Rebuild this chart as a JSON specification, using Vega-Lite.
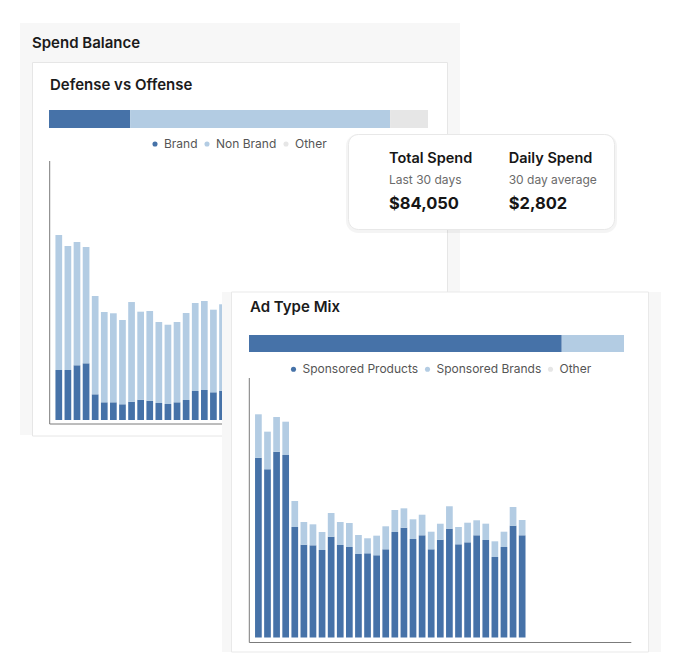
{
  "$schema": "https://vega.github.io/schema/vega-lite/v6.json",
  "width": 678,
  "height": 664,
  "autosize": {"type": "none"},
  "padding": 0,
  "background": "white",
  "config": {
    "font": "Inter",
    "view": {"stroke": null}
  },
  "datasets": {
    "defShare": [
      {"chart": "Defense vs Offense", "segment": "Brand", "share": 21.4},
      {"chart": "Defense vs Offense", "segment": "Non Brand", "share": 68.6},
      {"chart": "Defense vs Offense", "segment": "Other", "share": 10.0}
    ],
    "adShare": [
      {"chart": "Ad Type Mix", "segment": "Sponsored Products", "share": 83.4},
      {"chart": "Ad Type Mix", "segment": "Sponsored Brands", "share": 16.6}
    ],
    "defDaily": [
      {"day": 1, "Brand": 1089, "Non Brand": 2939},
      {"day": 2, "Brand": 1089, "Non Brand": 2699},
      {"day": 3, "Brand": 1191, "Non Brand": 2684},
      {"day": 4, "Brand": 1234, "Non Brand": 2532},
      {"day": 5, "Brand": 559, "Non Brand": 2140},
      {"day": 6, "Brand": 385, "Non Brand": 1966},
      {"day": 7, "Brand": 385, "Non Brand": 1938},
      {"day": 8, "Brand": 342, "Non Brand": 1835},
      {"day": 9, "Brand": 398, "Non Brand": 2170},
      {"day": 10, "Brand": 442, "Non Brand": 1916},
      {"day": 11, "Brand": 420, "Non Brand": 1953},
      {"day": 12, "Brand": 370, "Non Brand": 1763},
      {"day": 13, "Brand": 348, "Non Brand": 1726},
      {"day": 14, "Brand": 385, "Non Brand": 1748},
      {"day": 15, "Brand": 435, "Non Brand": 1894},
      {"day": 16, "Brand": 631, "Non Brand": 1916},
      {"day": 17, "Brand": 653, "Non Brand": 1938},
      {"day": 18, "Brand": 603, "Non Brand": 1798},
      {"day": 19, "Brand": 638, "Non Brand": 1881},
      {"day": 20, "Brand": 588, "Non Brand": 1578},
      {"day": 21, "Brand": 610, "Non Brand": 1720},
      {"day": 22, "Brand": 653, "Non Brand": 2025},
      {"day": 23, "Brand": 588, "Non Brand": 1676},
      {"day": 24, "Brand": 610, "Non Brand": 1742},
      {"day": 25, "Brand": 631, "Non Brand": 1763},
      {"day": 26, "Brand": 610, "Non Brand": 1720},
      {"day": 27, "Brand": 544, "Non Brand": 1415},
      {"day": 28, "Brand": 588, "Non Brand": 1578},
      {"day": 29, "Brand": 675, "Non Brand": 2003},
      {"day": 30, "Brand": 631, "Non Brand": 1763}
    ],
    "adDaily": [
      {"day": 1, "Sponsored Products": 3914, "Sponsored Brands": 945},
      {"day": 2, "Sponsored Products": 3662, "Sponsored Brands": 819},
      {"day": 3, "Sponsored Products": 4045, "Sponsored Brands": 755},
      {"day": 4, "Sponsored Products": 3973, "Sponsored Brands": 725},
      {"day": 5, "Sponsored Products": 2406, "Sponsored Brands": 566},
      {"day": 6, "Sponsored Products": 2020, "Sponsored Brands": 494},
      {"day": 7, "Sponsored Products": 2007, "Sponsored Brands": 457},
      {"day": 8, "Sponsored Products": 1905, "Sponsored Brands": 392},
      {"day": 9, "Sponsored Products": 2194, "Sponsored Brands": 516},
      {"day": 10, "Sponsored Products": 2014, "Sponsored Brands": 501},
      {"day": 11, "Sponsored Products": 1970, "Sponsored Brands": 522},
      {"day": 12, "Sponsored Products": 1818, "Sponsored Brands": 414},
      {"day": 13, "Sponsored Products": 1833, "Sponsored Brands": 327},
      {"day": 14, "Sponsored Products": 1790, "Sponsored Brands": 427},
      {"day": 15, "Sponsored Products": 1920, "Sponsored Brands": 501},
      {"day": 16, "Sponsored Products": 2297, "Sponsored Brands": 479},
      {"day": 17, "Sponsored Products": 2390, "Sponsored Brands": 422},
      {"day": 18, "Sponsored Products": 2144, "Sponsored Brands": 429},
      {"day": 19, "Sponsored Products": 2225, "Sponsored Brands": 448},
      {"day": 20, "Sponsored Products": 1920, "Sponsored Brands": 383},
      {"day": 21, "Sponsored Products": 2129, "Sponsored Brands": 348},
      {"day": 22, "Sponsored Products": 2369, "Sponsored Brands": 488},
      {"day": 23, "Sponsored Products": 2029, "Sponsored Brands": 377},
      {"day": 24, "Sponsored Products": 2072, "Sponsored Brands": 427},
      {"day": 25, "Sponsored Products": 2225, "Sponsored Brands": 327},
      {"day": 26, "Sponsored Products": 2123, "Sponsored Brands": 355},
      {"day": 27, "Sponsored Products": 1752, "Sponsored Brands": 342},
      {"day": 28, "Sponsored Products": 1970, "Sponsored Brands": 333},
      {"day": 29, "Sponsored Products": 2434, "Sponsored Brands": 407},
      {"day": 30, "Sponsored Products": 2225, "Sponsored Brands": 333}
    ],
    "kpi": [
      {"metric": "Total Spend", "period": "Last 30 days", "amount": 84050},
      {"metric": "Daily Spend", "period": "30 day average", "amount": 2802}
    ]
  },
  "resolve": {
    "scale": {"x": "independent", "y": "independent", "color": "independent"},
    "axis": {"x": "independent", "y": "independent"},
    "legend": {"color": "independent"}
  },
  "layer": [
    {
      "data": {"values": [{"card": "Spend Balance"}]},
      "mark": {"type": "rect", "fill": "#f7f7f7"},
      "encoding": {
        "x": {"field": "card", "type": "nominal", "scale": {"type": "band", "range": [20, 460], "paddingInner": 0, "paddingOuter": 0}, "axis": null},
        "y": {"field": "card", "type": "nominal", "scale": {"type": "band", "range": [23, 435], "paddingInner": 0, "paddingOuter": 0}, "axis": null}
      }
    },
    {
      "data": {"values": [{"card": "Spend Balance"}]},
      "mark": {"type": "text", "align": "left", "baseline": "alphabetic", "fontSize": 15, "fontWeight": 600, "color": "#1b1b1b"},
      "encoding": {
        "x": {"field": "card", "type": "nominal", "scale": {"type": "point", "range": [32, 32]}, "axis": null},
        "y": {"field": "card", "type": "nominal", "scale": {"type": "point", "range": [47.5, 47.5]}, "axis": null},
        "text": {"field": "card"}
      }
    },
    {
      "data": {"values": [{"card": "Defense vs Offense"}]},
      "mark": {"type": "rect", "fill": "white", "stroke": "#e6e6e6", "strokeWidth": 1},
      "encoding": {
        "x": {"field": "card", "type": "nominal", "scale": {"type": "band", "range": [32.5, 447.5], "paddingInner": 0, "paddingOuter": 0}, "axis": null},
        "y": {"field": "card", "type": "nominal", "scale": {"type": "band", "range": [62.5, 436], "paddingInner": 0, "paddingOuter": 0}, "axis": null}
      }
    },
    {
      "data": {"values": [{"card": "Defense vs Offense"}]},
      "mark": {"type": "text", "align": "left", "baseline": "alphabetic", "fontSize": 15, "fontWeight": 600, "color": "#1b1b1b"},
      "encoding": {
        "x": {"field": "card", "type": "nominal", "scale": {"type": "point", "range": [50, 50]}, "axis": null},
        "y": {"field": "card", "type": "nominal", "scale": {"type": "point", "range": [90, 90]}, "axis": null},
        "text": {"field": "card"}
      }
    },
    {
      "data": {"name": "defShare"},
      "mark": {"type": "bar"},
      "encoding": {
        "y": {"field": "chart", "type": "nominal", "scale": {"type": "band", "range": [110, 128], "paddingInner": 0, "paddingOuter": 0}, "axis": null},
        "x": {"field": "share", "type": "quantitative", "stack": "zero", "scale": {"domain": [0, 100], "range": [49, 428], "nice": false, "padding": 0}, "axis": null},
        "color": {"field": "segment", "type": "nominal", "scale": {"domain": ["Brand", "Non Brand", "Other"], "range": ["#4672a8", "#b3cce3", "#e6e6e6"]}, "legend": {"orient": "none", "legendX": 149, "legendY": 138, "direction": "horizontal", "title": null, "symbolType": "circle", "symbolSize": 26, "symbolStrokeWidth": 0, "labelFontSize": 12, "labelColor": "#555555", "labelFont": "Inter", "columnPadding": 3, "labelOffset": 3, "padding": 0}},
        "order": {"field": "segment", "sort": "ascending"}
      }
    },
    {
      "layer": [
        {
          "data": {"name": "defDaily"},
          "transform": [{"fold": ["Brand", "Non Brand"], "as": ["segment", "spend"]}],
          "mark": {"type": "bar", "orient": "vertical", "width": 6.7, "yOffset": -4},
          "encoding": {
            "x": {"field": "day", "type": "quantitative", "scale": {"domain": [0, 42], "range": [49.7, 431.7], "nice": false, "zero": false, "padding": 0}, "axis": null},
            "y": {"field": "spend", "type": "quantitative", "stack": "zero", "scale": {"domain": [0, 5725], "range": [424, 161], "nice": false, "padding": 0}, "axis": null},
            "color": {"field": "segment", "type": "nominal", "scale": {"domain": ["Brand", "Non Brand", "Other"], "range": ["#4672a8", "#b3cce3", "#e6e6e6"]}, "legend": null},
            "order": {"field": "segment", "sort": "ascending"}
          }
        },
        {
          "data": {"values": [{"line": "x axis"}]},
          "mark": {"type": "rule", "color": "#7b7b7b", "strokeWidth": 1},
          "encoding": {
            "x": {"datum": 0, "type": "quantitative"},
            "x2": {"datum": 42},
            "y": {"datum": 0, "type": "quantitative"}
          }
        },
        {
          "data": {"values": [{"line": "y axis"}]},
          "mark": {"type": "rule", "color": "#7b7b7b", "strokeWidth": 1},
          "encoding": {
            "x": {"datum": 0, "type": "quantitative"},
            "y": {"datum": 0, "type": "quantitative"},
            "y2": {"datum": 5725}
          }
        }
      ]
    },
    {
      "data": {"values": [{"card": "Spend summary"}]},
      "mark": {"type": "rect", "fill": "#000000", "opacity": 0.045, "cornerRadius": 12},
      "encoding": {
        "x": {"field": "card", "type": "nominal", "scale": {"type": "band", "range": [346, 617], "paddingInner": 0, "paddingOuter": 0}, "axis": null},
        "y": {"field": "card", "type": "nominal", "scale": {"type": "band", "range": [134, 233], "paddingInner": 0, "paddingOuter": 0}, "axis": null}
      }
    },
    {
      "data": {"values": [{"card": "Spend summary"}]},
      "mark": {"type": "rect", "fill": "white", "stroke": "#e8e8e8", "strokeWidth": 1, "cornerRadius": 10},
      "encoding": {
        "x": {"field": "card", "type": "nominal", "scale": {"type": "band", "range": [348.5, 614.5], "paddingInner": 0, "paddingOuter": 0}, "axis": null},
        "y": {"field": "card", "type": "nominal", "scale": {"type": "band", "range": [134.5, 229.5], "paddingInner": 0, "paddingOuter": 0}, "axis": null}
      }
    },
    {
      "data": {"name": "kpi"},
      "mark": {"type": "text", "align": "left", "baseline": "alphabetic", "fontSize": 14.5, "fontWeight": 600, "color": "#161616"},
      "encoding": {
        "x": {"field": "metric", "type": "nominal", "scale": {"type": "point", "domain": ["Total Spend", "Daily Spend"], "range": [389, 508.7], "padding": 0}, "axis": null},
        "y": {"datum": "metric", "type": "nominal", "scale": {"type": "point", "range": [163.3, 163.3]}, "axis": null},
        "text": {"field": "metric"}
      }
    },
    {
      "data": {"name": "kpi"},
      "mark": {"type": "text", "align": "left", "baseline": "alphabetic", "fontSize": 12, "fontWeight": 400, "color": "#6b6b6b"},
      "encoding": {
        "x": {"field": "metric", "type": "nominal", "scale": {"type": "point", "domain": ["Total Spend", "Daily Spend"], "range": [389, 508.7], "padding": 0}, "axis": null},
        "y": {"datum": "period", "type": "nominal", "scale": {"type": "point", "range": [184.3, 184.3]}, "axis": null},
        "text": {"field": "period"}
      }
    },
    {
      "data": {"name": "kpi"},
      "mark": {"type": "text", "align": "left", "baseline": "alphabetic", "fontSize": 16.5, "fontWeight": 700, "color": "#161616"},
      "encoding": {
        "x": {"field": "metric", "type": "nominal", "scale": {"type": "point", "domain": ["Total Spend", "Daily Spend"], "range": [389, 508.7], "padding": 0}, "axis": null},
        "y": {"datum": "amount", "type": "nominal", "scale": {"type": "point", "range": [209, 209]}, "axis": null},
        "text": {"field": "amount", "type": "quantitative", "format": "$,.0f"}
      }
    },
    {
      "data": {"values": [{"card": "Ad Type Mix"}]},
      "mark": {"type": "rect", "fill": "#f7f7f7"},
      "encoding": {
        "x": {"field": "card", "type": "nominal", "scale": {"type": "band", "range": [222, 661], "paddingInner": 0, "paddingOuter": 0}, "axis": null},
        "y": {"field": "card", "type": "nominal", "scale": {"type": "band", "range": [292, 652], "paddingInner": 0, "paddingOuter": 0}, "axis": null}
      }
    },
    {
      "data": {"values": [{"card": "Ad Type Mix"}]},
      "mark": {"type": "rect", "fill": "white", "stroke": "#e9e9e9", "strokeWidth": 1},
      "encoding": {
        "x": {"field": "card", "type": "nominal", "scale": {"type": "band", "range": [231.5, 648.5], "paddingInner": 0, "paddingOuter": 0}, "axis": null},
        "y": {"field": "card", "type": "nominal", "scale": {"type": "band", "range": [292, 652], "paddingInner": 0, "paddingOuter": 0}, "axis": null}
      }
    },
    {
      "data": {"values": [{"card": "Ad Type Mix"}]},
      "mark": {"type": "text", "align": "left", "baseline": "alphabetic", "fontSize": 15, "fontWeight": 600, "color": "#1b1b1b"},
      "encoding": {
        "x": {"field": "card", "type": "nominal", "scale": {"type": "point", "range": [250, 250]}, "axis": null},
        "y": {"field": "card", "type": "nominal", "scale": {"type": "point", "range": [311.7, 311.7]}, "axis": null},
        "text": {"field": "card"}
      }
    },
    {
      "data": {"name": "adShare"},
      "mark": {"type": "bar"},
      "encoding": {
        "y": {"field": "chart", "type": "nominal", "scale": {"type": "band", "range": [335, 352], "paddingInner": 0, "paddingOuter": 0}, "axis": null},
        "x": {"field": "share", "type": "quantitative", "stack": "zero", "scale": {"domain": [0, 100], "range": [249, 624], "nice": false, "padding": 0}, "axis": null},
        "color": {"field": "segment", "type": "nominal", "scale": {"domain": ["Sponsored Products", "Sponsored Brands", "Other"], "range": ["#4672a8", "#b3cce3", "#e6e6e6"]}, "legend": {"orient": "none", "legendX": 287.5, "legendY": 363.3, "direction": "horizontal", "title": null, "symbolType": "circle", "symbolSize": 26, "symbolStrokeWidth": 0, "labelFontSize": 12, "labelColor": "#555555", "labelFont": "Inter", "columnPadding": 3, "labelOffset": 3, "padding": 0}},
        "order": {"field": "segment", "sort": "descending"}
      }
    },
    {
      "layer": [
        {
          "data": {"name": "adDaily"},
          "transform": [{"fold": ["Sponsored Products", "Sponsored Brands"], "as": ["segment", "spend"]}],
          "mark": {"type": "bar", "orient": "vertical", "width": 6.7, "yOffset": -5},
          "encoding": {
            "x": {"field": "day", "type": "quantitative", "scale": {"domain": [0, 42], "range": [249.3, 631.3], "nice": false, "zero": false, "padding": 0}, "axis": null},
            "y": {"field": "spend", "type": "quantitative", "stack": "zero", "scale": {"domain": [0, 5758], "range": [642.5, 378], "nice": false, "padding": 0}, "axis": null},
            "color": {"field": "segment", "type": "nominal", "scale": {"domain": ["Sponsored Products", "Sponsored Brands", "Other"], "range": ["#4672a8", "#b3cce3", "#e6e6e6"]}, "legend": null},
            "order": {"field": "segment", "sort": "descending"}
          }
        },
        {
          "data": {"values": [{"line": "x axis"}]},
          "mark": {"type": "rule", "color": "#7b7b7b", "strokeWidth": 1},
          "encoding": {
            "x": {"datum": 0, "type": "quantitative"},
            "x2": {"datum": 42},
            "y": {"datum": 0, "type": "quantitative"}
          }
        },
        {
          "data": {"values": [{"line": "y axis"}]},
          "mark": {"type": "rule", "color": "#7b7b7b", "strokeWidth": 1},
          "encoding": {
            "x": {"datum": 0, "type": "quantitative"},
            "y": {"datum": 0, "type": "quantitative"},
            "y2": {"datum": 5758}
          }
        }
      ]
    }
  ]
}
